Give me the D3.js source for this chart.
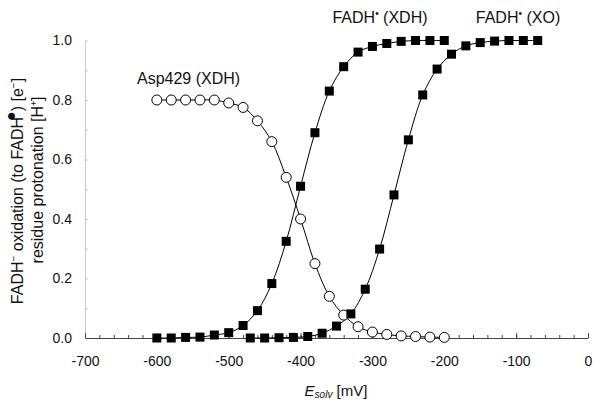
<!DOCTYPE html>
<html>
<head>
<meta charset="utf-8">
<script src="https://cdn.jsdelivr.net/npm/d3@7"></script>
<style>
  body { margin: 0; background: #fff; }
  text { font-family: "Liberation Sans", Arial, sans-serif; fill: #111; }
</style>
</head>
<body>
<svg class="chart" width="601" height="405"></svg>
<script>
// potentials [mV]
var aspE = d3.range(-600, -199, 20),
    xdhE = d3.range(-600, -199, 20),
    xoE = d3.range(-470, -69, 20);

// Asp429 (XDH) protonation
var aspVals = [0.80, 0.80, 0.80, 0.80, 0.80, 0.79, 0.775, 0.73, 0.66, 0.54, 0.40,
               0.25, 0.14, 0.077, 0.038, 0.02, 0.012, 0.007, 0.005, 0.003, 0.002];
// FADH (XDH) oxidation
var xdhVals = [0.0, 0.0, 0.002, 0.003, 0.01, 0.018, 0.042, 0.092, 0.183, 0.325, 0.51,
               0.69, 0.83, 0.912, 0.961, 0.98, 0.99, 0.997, 1.0, 1.0, 1.0];
// FADH (XO) oxidation
var xoVals = [0.0, 0.0, 0.001, 0.002, 0.005, 0.016, 0.04, 0.081, 0.164, 0.299, 0.481,
              0.666, 0.817, 0.904, 0.954, 0.982, 0.993, 0.998, 1.0, 1.0, 1.0];

var xTicks = d3.range(-700, 1, 100),
    yTicks = [0, 0.2, 0.4, 0.6, 0.8, 1.0];

var svg = d3.select(".chart");

var x = d3.scaleLinear().domain([-700, 0]).range([85, 588]),
    y = d3.scaleLinear().domain([0, 1]).range([338, 40.5]);

// y axis (faint)
var gy = svg.append("g")
    .attr("transform", "translate(" + x(-700) + ",0)")
    .call(d3.axisLeft(y).tickValues(d3.range(0, 1.01, 0.1)).tickSizeInner(-3).tickSizeOuter(0)
        .tickPadding(13).tickFormat(function(d) {
            return yTicks.some(function(t) { return Math.abs(t - d) < 1e-6; }) ? d.toFixed(1) : "";
        }));
gy.select(".domain").attr("stroke", "#c8c8c8");
gy.selectAll(".tick line").attr("stroke", "#c8c8c8");
gy.selectAll("text").attr("font-size", 14).attr("font-family", null);

// x axis minor ticks
var gxm = svg.append("g")
    .attr("transform", "translate(0," + y(0) + ")")
    .call(d3.axisBottom(x).tickValues(d3.range(-700, 1, 20)).tickSizeInner(-3).tickSizeOuter(0).tickFormat(""));
gxm.select(".domain").attr("stroke", "#444");
gxm.selectAll(".tick line").attr("stroke", "#444");

// x axis major ticks + labels
var gx = svg.append("g")
    .attr("transform", "translate(0," + y(0) + ")")
    .call(d3.axisBottom(x).tickValues(xTicks).tickSizeInner(-5).tickSizeOuter(0).tickPadding(18)
        .tickFormat(function(d) { return String(d); }));
gx.select(".domain").remove();
gx.selectAll(".tick line").attr("stroke", "#444");
gx.selectAll("text").attr("font-size", 14).attr("font-family", null);

var line = d3.line()
    .x(function(d) { return x(d[0]); })
    .y(function(d) { return y(d[1]); })
    .curve(d3.curveCatmullRom);

var asp = d3.zip(aspE, aspVals),
    xdh = d3.zip(xdhE, xdhVals),
    xo = d3.zip(xoE, xoVals);

[asp, xdh, xo].forEach(function(s) {
    svg.append("path")
        .datum(s)
        .attr("fill", "none")
        .attr("stroke", "#000")
        .attr("stroke-width", 1)
        .attr("d", line);
});

svg.append("g").selectAll("circle")
    .data(asp)
    .enter().append("circle")
    .attr("cx", function(d) { return x(d[0]); })
    .attr("cy", function(d) { return y(d[1]); })
    .attr("r", 5)
    .attr("fill", "#fff")
    .attr("stroke", "#000")
    .attr("stroke-width", 1);

var sq = 9;
svg.append("g").selectAll("rect")
    .data(xdh.concat(xo))
    .enter().append("rect")
    .attr("x", function(d) { return x(d[0]) - sq / 2; })
    .attr("y", function(d) { return y(d[1]) - sq / 2; })
    .attr("width", sq)
    .attr("height", sq)
    .attr("fill", "#000");

// series labels
svg.append("text")
    .attr("x", 137).attr("y", 84)
    .attr("font-size", 16)
    .text("Asp429 (XDH)");

function fadhLabel(cx, name) {
    var t = svg.append("text")
        .attr("x", cx).attr("y", 23)
        .attr("font-size", 16)
        .attr("text-anchor", "middle");
    t.append("tspan").text("FADH");
    t.append("tspan").attr("font-size", 10).attr("dy", -6).text("•");
    t.append("tspan").attr("dy", 6).text(" (" + name + ")");
}
fadhLabel(380, "XDH");
fadhLabel(518, "XO");

// x axis title
var xt = svg.append("text")
    .attr("x", 336).attr("y", 396)
    .attr("font-size", 15)
    .attr("text-anchor", "middle");
xt.append("tspan").attr("font-style", "italic").text("E");
xt.append("tspan").attr("font-style", "italic").attr("font-size", 10).attr("dy", 2).text("solv");
xt.append("tspan").attr("dy", -2).text(" [mV]");

// y axis title, two lines
var yt1 = svg.append("text")
    .attr("transform", "translate(23,191) rotate(-90)")
    .attr("font-size", 16)
    .attr("text-anchor", "middle");
yt1.append("tspan").text("FADH");
yt1.append("tspan").attr("font-size", 10).attr("dy", -6).text("−");
yt1.append("tspan").attr("dy", 6).text(" oxidation (to FADH");
yt1.append("tspan").attr("font-size", 16).attr("dy", -7).attr("dx", -4).text("●");
yt1.append("tspan").attr("dy", 7).text(") [e");
yt1.append("tspan").attr("font-size", 10).attr("dy", -6).text("−");
yt1.append("tspan").attr("dy", 6).text("]");

svg.append("text")
    .attr("transform", "translate(43,180) rotate(-90)")
    .attr("font-size", 16)
    .attr("text-anchor", "middle")
    .text("residue protonation [H⁺]");
</script>
</body>
</html>
